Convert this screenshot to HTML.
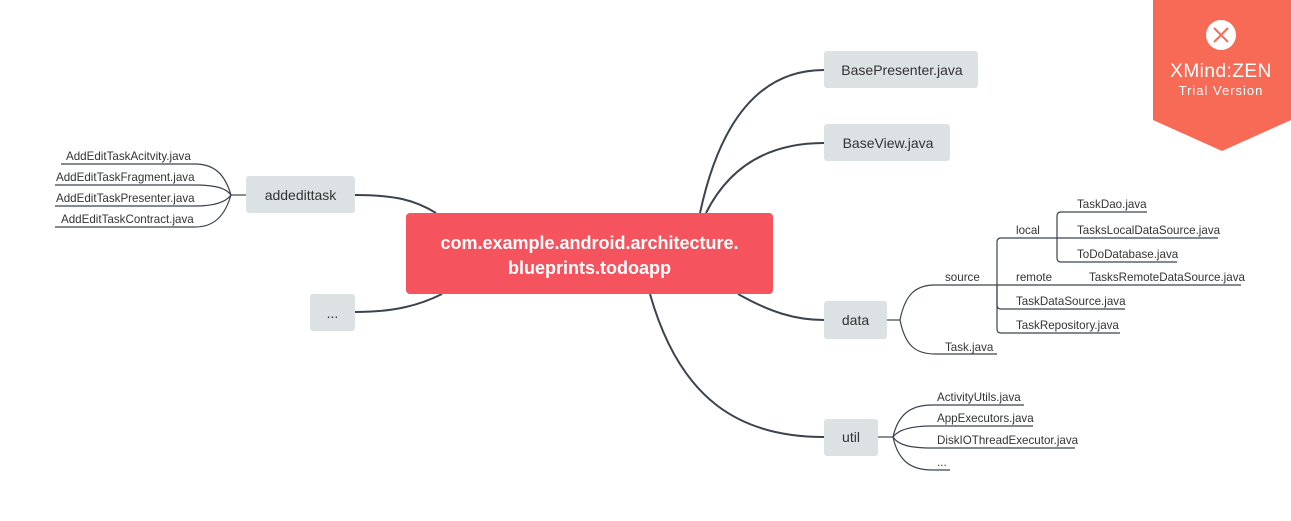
<!DOCTYPE html>
<html><head><meta charset="utf-8"><style>
html,body{margin:0;padding:0;background:#fff;}
svg{display:block;}
text{font-family:"Liberation Sans",sans-serif;}
</style></head><body>
<svg width="1291" height="521" viewBox="0 0 1291 521" xmlns="http://www.w3.org/2000/svg">
<g fill="none" stroke="#3b434e" stroke-width="2">
  <path d="M700 213 C720 120 760 70 824 70"/>
  <path d="M706 213 C730 165 770 143 824 143"/>
  <path d="M738 294 C770 312 795 320 824 320"/>
  <path d="M650 294 C680 400 740 437 824 437"/>
  <path d="M355 195 C395 195 415 200 436 213"/>
  <path d="M355 312 C395 312 420 305 442 294"/>
</g>
<g fill="none" stroke="#3b434e" stroke-width="1.2">
  <path d="M246 195 H231"/>
  <path d="M231 195 C225 175 215 164 195 164 H61"/>
  <path d="M231 195 C226 188 215 185 195 185 H55"/>
  <path d="M231 195 C226 202 215 206 195 206 H55"/>
  <path d="M231 195 C225 215 215 227 195 227 H55"/>
  <path d="M887 320 H900"/>
  <path d="M900 320 C905 295 915 285 935 285 H997"/>
  <path d="M900 320 C905 345 915 354 935 354 H997"/>
  <path d="M997 285 H1241"/>
  <path d="M997 285 V242 Q997 238 1001 238 H1057"/>
  <path d="M997 285 V305 Q997 309 1001 309 H1125"/>
  <path d="M997 285 V329 Q997 333 1001 333 H1120"/>
  <path d="M1057 238 V216 Q1057 212 1061 212 H1147"/>
  <path d="M1057 238 H1218"/>
  <path d="M1057 238 V258 Q1057 262 1061 262 H1177"/>
  <path d="M878 437 H893"/>
  <path d="M893 437 C898 415 910 405 932 405 H1024"/>
  <path d="M893 437 C898 430 910 426 932 426 H1033"/>
  <path d="M893 437 C898 445 910 448 932 448 H1075"/>
  <path d="M893 437 C898 460 910 470 932 470 H950"/>
</g>
<rect x="406" y="213" width="367" height="81" rx="4" fill="#f5535d"/>
<text x="589.5" y="249" text-anchor="middle" font-size="18" font-weight="bold" fill="#fff">com.example.android.architecture.</text>
<text x="589.5" y="274" text-anchor="middle" font-size="18" font-weight="bold" fill="#fff">blueprints.todoapp</text>
<g fill="#dce1e3">
  <rect x="824" y="51" width="154" height="37" rx="3"/>
  <rect x="824" y="124" width="126" height="37" rx="3"/>
  <rect x="824" y="301" width="63" height="38" rx="3"/>
  <rect x="824" y="419" width="54" height="37" rx="3"/>
  <rect x="246" y="176" width="109" height="37" rx="3"/>
  <rect x="310" y="294" width="45" height="37" rx="3"/>
</g>
<g font-size="14" fill="#333" text-anchor="middle">
  <text x="902" y="75">BasePresenter.java</text>
  <text x="888" y="148">BaseView.java</text>
  <text x="855.5" y="325">data</text>
  <text x="851" y="442">util</text>
  <text x="300.5" y="200">addedittask</text>
  <text x="332.5" y="318">...</text>
</g>
<g font-size="11.6" fill="#333">
  <text x="66" y="160">AddEditTaskAcitvity.java</text>
  <text x="56" y="181">AddEditTaskFragment.java</text>
  <text x="56" y="202">AddEditTaskPresenter.java</text>
  <text x="61" y="223">AddEditTaskContract.java</text>
  <text x="945" y="281">source</text>
  <text x="945" y="351">Task.java</text>
  <text x="1016" y="234">local</text>
  <text x="1016" y="281">remote</text>
  <text x="1016" y="305">TaskDataSource.java</text>
  <text x="1016" y="329">TaskRepository.java</text>
  <text x="1077" y="208">TaskDao.java</text>
  <text x="1077" y="234">TasksLocalDataSource.java</text>
  <text x="1077" y="258">ToDoDatabase.java</text>
  <text x="1089" y="281">TasksRemoteDataSource.java</text>
  <text x="937" y="401">ActivityUtils.java</text>
  <text x="937" y="422">AppExecutors.java</text>
  <text x="937" y="444">DiskIOThreadExecutor.java</text>
  <text x="937" y="466">...</text>
</g>
<path d="M1153 0 H1291 V120 L1222 151 L1153 120 Z" fill="#f76a55"/>
<circle cx="1221" cy="35" r="15" fill="#fff"/>
<path d="M1214 28 L1221 35 L1228 28 M1214 42 L1221 35 L1228 42" stroke="#f76a55" stroke-width="2" fill="none"/>
<text x="1221" y="77" text-anchor="middle" font-size="19" fill="#fff" letter-spacing="0.5">XMind:ZEN</text>
<text x="1221" y="95" text-anchor="middle" font-size="13" fill="#fff" letter-spacing="1">Trial Version</text>
</svg>
</body></html>
